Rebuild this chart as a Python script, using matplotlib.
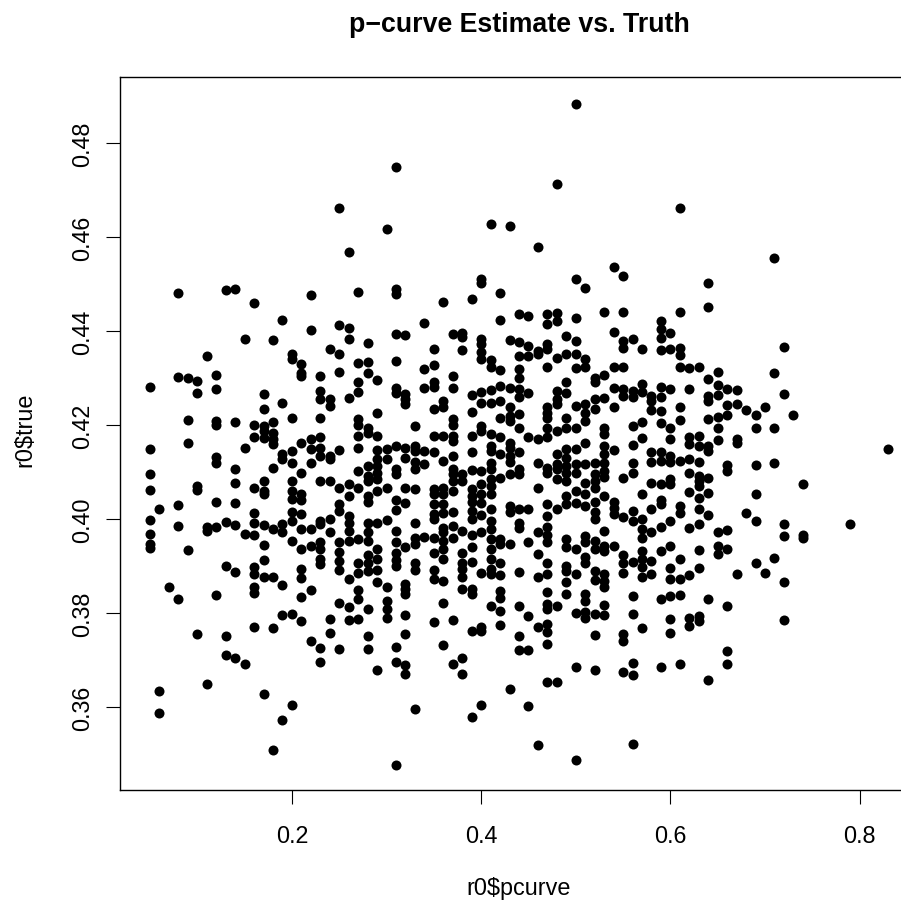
import matplotlib
matplotlib.use("Agg")
import matplotlib.pyplot as plt

title = "p\u2212curve Estimate vs. Truth"
x_label = "r0$pcurve"
y_label = "r0$true"
x_ticks = [0.2, 0.4, 0.6, 0.8]
y_ticks = [0.36, 0.38, 0.40, 0.42, 0.44, 0.46, 0.48]
x_limits = (0.0185, 0.8437)
y_limits = (0.3425, 0.4941)

t05 = [.4281,.4149,.4096,.4062,.3999,.3969,.3947,.3938]
t06 = [.4022,.3635,.3588]
t07 = [.3857]
t08 = [.4482,.4302,.4030,.3986,.3830]
t09 = [.4301,.4211,.4163,.3934]
t10 = [.4294,.4268,.4070,.4062,.3756]
t11 = [.4347,.3983,.3976,.3649]
t12 = [.4306,.4277,.4209,.4200,.4133,.4119,.4036,.3984,.3839]
t13 = [.4487,.3995,.3901,.3752,.3711]
t14 = [.4489,.4206,.4106,.4077,.4034,.3988,.3888,.3706]
t15 = [.4383,.4151,.3969,.3692]
t16 = [.4459,.4200,.4175,.4066,.4013,.3992,.3967,.3899,.3883,.3857,.3844,.3771]
t17 = [.4266,.4234,.4198,.4188,.4172,.4081,.4060,.4053,.3988,.3945,.3913,.3878,.3628]
t18 = [.4381,.4207,.4183,.4170,.4160,.4108,.3979,.3878,.3769,.3509]
t19 = [.4423,.4247,.4138,.4129,.3990,.3972,.3860,.3796,.3573]
t20 = [.4351,.4340,.4215,.4145,.4120,.4081,.4060,.4043,.4015,.3997,.3954,.3798,.3605]
t21 = [.4330,.4310,.4305,.4163,.4098,.4053,.4040,.4011,.3979,.3937,.3894,.3875,.3834,.3784]
t22 = [.4476,.4402,.4170,.4149,.4120,.3979,.3944,.3850,.3742]
t23 = [.4304,.4273,.4255,.4215,.4174,.4152,.4135,.4081,.3997,.3990,.3951,.3937,.3916,.3905,.3726,.3697]
t24 = [.4362,.4255,.4240,.4135,.4128,.4081,.4000,.3972,.3789,.3759]
t25 = [.4662,.4413,.4351,.4313,.4148,.4067,.4032,.4018,.3951,.3931,.3912,.3892,.3822,.3724]
t26 = [.4568,.4406,.4383,.4257,.4074,.4050,.4007,.3993,.3975,.3954,.3874,.3814,.3786]
t27 = [.4483,.4333,.4291,.4271,.4213,.4200,.4178,.4152,.4103,.4067,.3958,.3908,.3885,.3850,.3831,.3787]
t28 = [.4374,.4335,.4311,.4195,.4184,.4113,.4092,.4081,.4050,.4037,.3993,.3972,.3954,.3923,.3908,.3890,.3810,.3751,.3724]
t29 = [.4296,.4225,.4178,.4147,.4128,.4113,.4099,.4085,.4061,.3993,.3936,.3915,.3892,.3867,.3680]
t30 = [.4617,.4149,.4128,.4067,.3998,.3855,.3826,.3809,.3791]
t31 = [.4750,.4489,.4479,.4394,.4337,.4280,.4269,.4156,.4107,.4096,.4041,.4020,.3974,.3952,.3929,.3914,.3901,.3729,.3697,.3478]
t32 = [.4392,.4266,.4255,.4245,.4152,.4131,.4067,.4035,.3942,.3862,.3851,.3841,.3796,.3756,.3690,.3671]
t33 = [.4199,.4156,.4145,.4121,.4106,.4064,.3992,.3961,.3947,.3908,.3892,.3596]
t34 = [.4417,.4319,.4280,.4145,.4117,.3963]
t35 = [.4362,.4328,.4291,.4282,.4234,.4176,.4142,.4064,.4053,.4032,.4011,.4000,.3961,.3929,.3892,.3872,.3782]
t36 = [.4461,.4252,.4238,.4178,.4124,.4067,.4053,.4032,.4013,.3982,.3972,.3954,.3936,.3915,.3869,.3823,.3732]
t37 = [.4394,.4305,.4280,.4213,.4200,.4178,.4167,.4135,.4106,.4096,.4081,.4060,.4015,.3986,.3961,.3786,.3692]
t38 = [.4396,.4387,.4360,.4096,.4081,.3975,.3928,.3907,.3894,.3878,.3851,.3705,.3671]
t39 = [.4469,.4264,.4228,.4176,.4144,.4105,.4064,.4050,.4036,.4018,.4000,.3966,.3940,.3910,.3851,.3841,.3763,.3580]
t40 = [.4510,.4503,.4383,.4372,.4355,.4340,.4270,.4247,.4198,.4188,.4103,.4074,.4053,.4035,.4009,.3972,.3885,.3770,.3763,.3605]
t41 = [.4628,.4339,.4323,.4275,.4248,.4181,.4156,.4145,.4120,.4106,.4085,.4071,.4053,.4022,.3997,.3979,.3958,.3936,.3915,.3894,.3883,.3816]
t42 = [.4482,.4424,.4318,.4284,.4252,.4216,.4174,.4139,.4088,.3958,.3947,.3908,.3881,.3847,.3833,.3805,.3775]
t43 = [.4624,.4382,.4280,.4238,.4220,.4209,.4163,.4152,.4135,.4121,.4096,.4029,.4015,.3947,.3639]
t44 = [.4436,.4377,.4347,.4319,.4301,.4277,.4259,.4223,.4195,.4142,.4106,.4096,.4022,.3993,.3982,.3888,.3815,.3752,.3722]
t45 = [.4433,.4369,.4348,.4269,.4174,.4022,.3951,.3794,.3722,.3603]
t46 = [.4578,.4358,.4351,.4170,.4120,.4066,.3973,.3926,.3878,.3772,.3519]
t47 = [.4436,.4415,.4372,.4362,.4323,.4238,.4227,.4216,.4195,.4174,.4110,.4099,.4032,.4008,.3983,.3966,.3951,.3908,.3883,.3846,.3820,.3809,.3777,.3761,.3735,.3653]
t48 = [.4712,.4438,.4422,.4342,.4273,.4255,.4245,.4188,.4138,.4117,.4106,.4085,.4022,.3816,.3654]
t49 = [.4390,.4351,.4291,.4269,.4216,.4195,.4149,.4131,.4113,.4099,.4081,.4050,.4032,.3958,.3940,.3901,.3891,.3867,.3841]
t50 = [.4883,.4510,.4429,.4379,.4351,.4321,.4240,.4195,.4149,.4117,.4099,.4060,.4035,.3937,.3883,.3800,.3685,.3488]
t51 = [.4491,.4340,.4323,.4245,.4227,.4209,.4163,.4117,.4078,.4053,.4029,.3965,.3951,.3919,.3908,.3841,.3827,.3802,.3791]
t52 = [.4301,.4291,.4255,.4234,.4120,.4096,.4081,.4067,.4036,.4015,.4000,.3954,.3937,.3891,.3871,.3798,.3754,.3679]
t53 = [.4441,.4306,.4257,.4195,.4181,.4156,.4138,.4120,.4103,.4089,.4050,.3976,.3944,.3933,.3883,.3869,.3855,.3817,.3796]
t54 = [.4536,.4398,.4323,.4280,.4238,.4148,.4036,.4025,.4011,.3944]
t55 = [.4517,.4441,.4379,.4365,.4323,.4277,.4262,.4088,.4004,.3924,.3908,.3885,.3755,.3741,.3675]
t56 = [.4383,.4273,.4259,.4198,.4158,.4120,.4099,.4018,.3997,.3910,.3836,.3798,.3694,.3669,.3523]
t57 = [.4362,.4287,.4271,.4207,.4172,.4053,.4000,.3979,.3961,.3933,.3915,.3898,.3878,.3768]
t58 = [.4262,.4252,.4233,.4142,.4122,.4078,.4022,.3973,.3912,.3883]
t59 = [.4422,.4404,.4386,.4360,.4282,.4259,.4230,.4204,.4142,.4124,.4074,.4040,.4032,.3983,.3933,.3830,.3685]
t60 = [.4397,.4362,.4277,.4195,.4170,.4135,.4121,.4085,.4075,.3997,.3943,.3897,.3873,.3837,.3787,.3758]
t61 = [.4662,.4441,.4365,.4349,.4323,.4238,.4211,.4124,.4028,.4014,.3915,.3873,.3839,.3692]
t62 = [.4321,.4278,.4174,.4160,.4129,.4098,.4057,.3982,.3881,.3791,.3773]
t63 = [.4323,.4177,.4155,.4121,.4092,.4082,.4071,.4046,.4021,.3990,.3935,.3897,.3795,.3784]
t64 = [.4503,.4451,.4299,.4262,.4252,.4213,.4156,.4146,.4087,.4055,.4009,.3830,.3658]
t65 = [.4314,.4286,.4265,.4218,.4195,.4169,.3973,.3943,.3926]
t66 = [.4277,.4243,.4221,.4115,.4103,.3977,.3936,.3816,.3720,.3693]
t67 = [.4275,.4245,.4170,.4163,.3883]
t68 = [.4233,.4013]
t69 = [.4221,.4194,.4115,.4053,.3996,.3907]
t70 = [.4238,.3885]
t71 = [.4555,.4311,.4194,.4119,.3917]
t72 = [.4366,.4266,.3990,.3965,.3867,.3785]
t73 = [.4221]
t74 = [.4075,.3966,.3960]
t79 = [.3990]
t83 = [.4149]

columns = [
    (.05,t05),(.06,t06),(.07,t07),(.08,t08),(.09,t09),(.10,t10),(.11,t11),(.12,t12),
    (.13,t13),(.14,t14),(.15,t15),(.16,t16),(.17,t17),(.18,t18),(.19,t19),(.20,t20),
    (.21,t21),(.22,t22),(.23,t23),(.24,t24),(.25,t25),(.26,t26),(.27,t27),(.28,t28),
    (.29,t29),(.30,t30),(.31,t31),(.32,t32),(.33,t33),(.34,t34),(.35,t35),(.36,t36),
    (.37,t37),(.38,t38),(.39,t39),(.40,t40),(.41,t41),(.42,t42),(.43,t43),(.44,t44),
    (.45,t45),(.46,t46),(.47,t47),(.48,t48),(.49,t49),(.50,t50),(.51,t51),(.52,t52),
    (.53,t53),(.54,t54),(.55,t55),(.56,t56),(.57,t57),(.58,t58),(.59,t59),(.60,t60),
    (.61,t61),(.62,t62),(.63,t63),(.64,t64),(.65,t65),(.66,t66),(.67,t67),(.68,t68),
    (.69,t69),(.70,t70),(.71,t71),(.72,t72),(.73,t73),(.74,t74),(.79,t79),(.83,t83),
]
pcurve = [p for p, ys in columns for _ in ys]
true = [y for _, ys in columns for y in ys]

W, H = 901, 903
FS = 16.8
plt.rcParams["font.family"] = ["Liberation Sans", "DejaVu Sans"]
plt.rcParams["ytick.alignment"] = "center"
fig = plt.figure(figsize=(W / 100, H / 100), dpi=100)
ax = fig.add_axes([120.2 / W, 1 - 790.7 / H, (W - 120.2) / W, 713 / H])
ax.scatter(pcurve, true, s=52, c="black", linewidths=0, zorder=3)
ax.set_xlim(*x_limits)
ax.set_ylim(*y_limits)
ax.set_xticks(x_ticks, [f"{v:.1f}" for v in x_ticks])
ax.set_yticks(y_ticks, [f"{v:.2f}" for v in y_ticks])
ax.tick_params(axis="both", length=10, width=0.8, labelsize=FS, color="black")
ax.tick_params(axis="x", pad=14.4)
ax.tick_params(axis="y", pad=8.8, labelrotation=90)
ax.spines["right"].set_visible(False)
for s in ax.spines.values():
    s.set_linewidth(1)
ax.set_xlabel(x_label, fontsize=FS, va="center")
ax.xaxis.set_label_coords((518.5 - 120.2) / (W - 120.2), -(889 - 790.7) / 713, transform=ax.transAxes)
ax.set_ylabel(y_label, fontsize=FS, va="center")
ax.yaxis.set_label_coords(-(120.2 - 25) / (W - 120.2), 0.506, transform=ax.transAxes)
fig.text(519 / W, 1 - 31.5 / H, title, ha="center", va="baseline", fontsize=19.3, fontweight="bold")
fig.savefig("out.png", dpi=100)
